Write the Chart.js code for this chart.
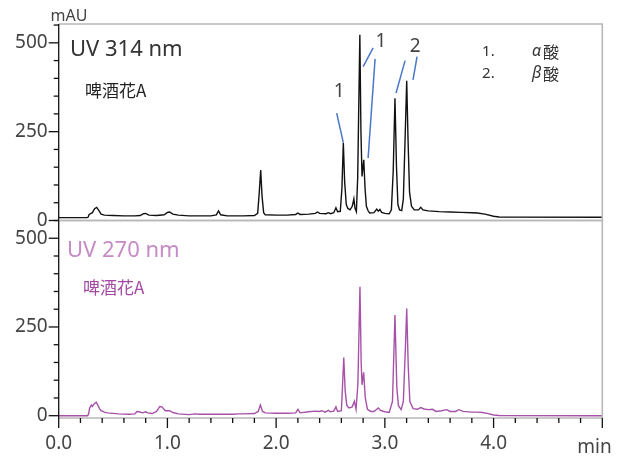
<!DOCTYPE html>
<html><head><meta charset="utf-8">
<script src="https://cdn.jsdelivr.net/npm/chart.js@4"></script>
<style>
html,body{margin:0;padding:0;background:#fff;}
#wrap{position:relative;width:619px;height:456px;overflow:hidden;}
canvas{position:absolute;left:0;top:0;}
</style></head><body>
<div id="wrap"><canvas id="c1" width="619" height="456"></canvas><canvas id="c2" width="619" height="456"></canvas></div>
<script>
// ---- data (time in min, absorbance in mAU) ----
const timeTop = [0.00,0.26,0.27,0.28,0.29,0.31,0.33,0.35,0.37,0.39,0.42,0.50,0.60,0.70,0.75,0.78,0.80,0.83,0.90,0.97,1.00,1.02,1.05,1.10,1.20,1.30,1.40,1.45,1.47,1.49,1.55,1.70,1.80,1.83,1.845,1.858,1.87,1.885,1.90,2.00,2.10,2.18,2.20,2.22,2.30,2.36,2.38,2.40,2.46,2.48,2.50,2.53,2.55,2.565,2.59,2.605,2.618,2.63,2.645,2.66,2.68,2.70,2.715,2.725,2.738,2.75,2.770,2.780,2.790,2.806,2.818,2.83,2.845,2.86,2.90,2.925,2.94,2.955,2.97,3.00,3.04,3.06,3.077,3.093,3.107,3.12,3.135,3.155,3.17,3.187,3.201,3.213,3.227,3.245,3.27,3.31,3.33,3.35,3.40,3.50,3.60,3.70,3.80,3.85,3.92,4.00,4.05,5.00];
const valueTop = [8,8,9,17,19,22,33,37,28,18,15,14,13,13,14,19,20,15,14,16,23,24,18,15,13,13,13,16,27,16,13,13,14,20,80,142,70,22,16,15,15,17,21,17,18,20,24,20,19,22,19,22,36,25,26,90,219,110,45,34,30,40,61,35,25,120,523,250,124,171,90,40,28,21,22,32,26,31,23,20,19,30,140,344,150,45,30,28,60,240,393,230,80,40,30,30,37,30,27,25,24,23,22,21,18,12,10,9];
const timeBottom = [0.00,0.265,0.275,0.285,0.30,0.31,0.325,0.345,0.36,0.375,0.39,0.42,0.45,0.55,0.65,0.70,0.72,0.74,0.77,0.80,0.82,0.86,0.90,0.93,0.95,0.98,1.02,1.05,1.10,1.20,1.25,1.30,1.40,1.50,1.60,1.66,1.70,1.80,1.835,1.855,1.875,1.90,2.00,2.10,2.18,2.20,2.22,2.30,2.36,2.40,2.42,2.45,2.48,2.50,2.53,2.55,2.565,2.60,2.610,2.622,2.635,2.65,2.67,2.70,2.72,2.735,2.752,2.771,2.782,2.790,2.805,2.82,2.84,2.87,2.90,2.94,2.96,3.00,3.04,3.07,3.093,3.11,3.125,3.15,3.17,3.19,3.201,3.215,3.23,3.26,3.30,3.33,3.36,3.40,3.44,3.47,3.52,3.57,3.60,3.65,3.68,3.72,3.80,3.85,3.90,3.95,4.00,4.05,5.00];
const valueBottom = [0,0,5,22,30,26,33,38,30,20,14,10,8,5,4,5,12,11,8,11,8,6,12,26,25,14,14,9,5,3,5,4,4,4,4,5,5,6,12,30,12,8,7,7,8,18,8,11,13,12,14,10,15,11,13,25,12,14,80,164,70,29,22,25,41,18,90,363,150,87,122,50,18,12,12,22,15,11,9,40,284,80,28,17,40,200,302,140,40,20,18,23,19,17,18,12,14,17,12,12,17,12,10,10,9,6,2,0.5,0];
const yTickLabels = ['0','250','500'];
const xTickLabels = ['0.0','1.0','2.0','3.0','4.0'];
const yUnit = 'mAU';
const xUnit = 'min';
const panelTitles = ['UV 314 nm','UV 270 nm'];
const sampleName = '啤酒花A';
const peakNumbers = ['1','1','2'];
const legendNumbers = ['1.','2.'];
const legendGreek = ['α','β'];
const legendNames = ['酸','酸'];

// ---- styling / layout ----
const FONT = "'Noto Sans','Noto Sans CJK JP',sans-serif";
const CJK = "'Noto Sans CJK JP','Noto Sans',sans-serif";
const AREA = {left:58.7, right:602.3, top:24, mid:220.5, bottom:418};
const W = 619, H = 456;

function toPts(ts, vs){ return ts.map((t,i)=>({x:t,y:vs[i]})); }

function drawText(ctx, txt, x, y, font, color, align){
  ctx.font = font; ctx.fillStyle = color; ctx.textAlign = align||'left'; ctx.textBaseline = 'middle';
  ctx.fillText(txt, x, y);
}

const framePlugin = {
  id:'frame',
  afterDraw(chart, args, o){
    const {ctx, chartArea:a} = chart;
    const xs = chart.scales.x, ys = chart.scales.y;
    ctx.save();
    // grey frame
    ctx.strokeStyle = '#b8b8b8'; ctx.lineWidth = 1.6;
    ctx.beginPath();
    ctx.moveTo(a.left, a.top); ctx.lineTo(a.right, a.top); ctx.lineTo(a.right, a.bottom); ctx.lineTo(a.left, a.bottom);
    ctx.stroke();
    // y axis line + ticks
    ctx.strokeStyle = '#111'; ctx.lineWidth = 1.3;
    ctx.beginPath(); ctx.moveTo(a.left, a.top); ctx.lineTo(a.left, a.bottom); ctx.stroke();
    ys.ticks.forEach(tk=>{
      if (tk.value < ys.min || tk.value > ys.max) return;
      const py = ys.getPixelForValue(tk.value);
      const major = tk.label !== '';
      ctx.beginPath(); ctx.moveTo(a.left-(major?10:5), py); ctx.lineTo(a.left, py); ctx.stroke();
    });
    if (o.xAxis){
      xs.ticks.forEach(tk=>{
        const px = xs.getPixelForValue(tk.value);
        const major = Math.abs(tk.value-Math.round(tk.value))<1e-6;
        ctx.beginPath(); ctx.moveTo(px, a.bottom); ctx.lineTo(px, a.bottom+(major?10:5)); ctx.stroke();
      });
      drawText(ctx, xUnit, xs.getPixelForValue(4.928), a.bottom+30, '19px '+FONT, '#444', 'center');
    }
    // texts in data coordinates
    (o.texts||[]).forEach(tx=>{
      drawText(ctx, tx.text, xs.getPixelForValue(tx.t), ys.getPixelForValue(tx.v), tx.font, tx.color, tx.align);
    });
    // leader lines
    ctx.strokeStyle = '#4a78c8'; ctx.lineWidth = 1.5;
    (o.leaders||[]).forEach(l=>{
      ctx.beginPath();
      ctx.moveTo(xs.getPixelForValue(l[0]), ys.getPixelForValue(l[1]));
      ctx.lineTo(xs.getPixelForValue(l[2]), ys.getPixelForValue(l[3]));
      ctx.stroke();
    });
    ctx.restore();
  }
};

function yLabel(v){
  const i = [0,250,500].indexOf(Math.round(v));
  return (Math.abs(v-Math.round(v))<1e-6 && i>=0) ? yTickLabels[i] : '';
}
function xLabel(v){
  const r = Math.round(v);
  return (Math.abs(v-r)<1e-6 && r<xTickLabels.length) ? xTickLabels[r] : '';
}

function makeChart(id, pts, color, yMin, yMax, top, bottom, showX, texts, leaders){
  return new Chart(document.getElementById(id), {
    type:'line',
    data:{datasets:[{data:pts, borderColor:color, borderWidth:1.4, pointRadius:0, tension:0, fill:false}]},
    plugins:[framePlugin],
    options:{
      responsive:false, animation:false, devicePixelRatio:1,
      layout:{padding:{left:0, right:W-AREA.right, top:top, bottom:showX?0:H-bottom}},
      plugins:{legend:{display:false}, tooltip:{enabled:false},
        frame:{xAxis:showX, texts:texts, leaders:leaders}},
      scales:{
        x:{type:'linear', min:0, max:5, display:showX,
          border:{display:false},
          grid:{drawOnChartArea:false, drawTicks:false},
          ticks:{stepSize:0.2, autoSkip:false, maxRotation:0, callback:xLabel, padding:14,
            font:{family:FONT, size:19}, color:'#444'},
          afterFit:s=>{ if (showX) s.height = H-bottom; else s.height = 0; }
        },
        y:{type:'linear', min:yMin, max:yMax,
          border:{display:false},
          grid:{drawOnChartArea:false, drawTicks:false},
          ticks:{stepSize:50, includeBounds:false, autoSkip:false, callback:yLabel, padding:11,
            font:{family:FONT, size:19}, color:'#444'},
          afterFit:s=>{s.width = AREA.left;}
        }
      }
    }
  });
}

const topTexts = [
  {text:yUnit, t:0.095, v:573, font:'16px '+FONT, color:'#444', align:'center'},
  {text:panelTitles[0], t:0.104, v:480, font:'22px '+FONT, color:'#333', align:'left'},
  {text:sampleName, t:0.242, v:366, font:'17px '+CJK, color:'#222', align:'left'},
  {text:peakNumbers[0], t:2.579, v:362, font:'19px '+FONT, color:'#444', align:'center'},
  {text:peakNumbers[1], t:2.965, v:503, font:'19px '+FONT, color:'#444', align:'center'},
  {text:peakNumbers[2], t:3.278, v:489, font:'19px '+FONT, color:'#444', align:'center'},
  {text:legendNumbers[0], t:3.894, v:475, font:'15px '+FONT, color:'#333', align:'left'},
  {text:legendNumbers[1], t:3.894, v:413, font:'15px '+FONT, color:'#333', align:'left'},
  {text:legendGreek[0], t:4.354, v:475, font:'italic 16px '+FONT, color:'#333', align:'left'},
  {text:legendGreek[1], t:4.354, v:413, font:'italic 16px '+FONT, color:'#333', align:'left'},
  {text:legendNames[0], t:4.455, v:475, font:'16px '+CJK, color:'#333', align:'left'},
  {text:legendNames[1], t:4.455, v:413, font:'16px '+CJK, color:'#333', align:'left'}
];
const topLeaders = [
  [2.557,302,2.618,219],
  [2.800,433,2.892,486],
  [2.910,455,2.846,176],
  [3.186,450,3.103,359],
  [3.296,461,3.259,396]
];
const bottomTexts = [
  {text:panelTitles[1], t:0.076, v:464, font:'22px '+FONT, color:'#c68ac6', align:'left'},
  {text:sampleName, t:0.224, v:360, font:'17px '+CJK, color:'#a448a4', align:'left'}
];

makeChart('c1', toPts(timeTop, valueTop), '#111', 0, 553, AREA.top, AREA.mid, false, topTexts, topLeaders);
makeChart('c2', toPts(timeBottom, valueBottom), '#a652a8', -6.5, 550, AREA.mid, AREA.bottom, true, bottomTexts, []);
</script>
</body></html>
